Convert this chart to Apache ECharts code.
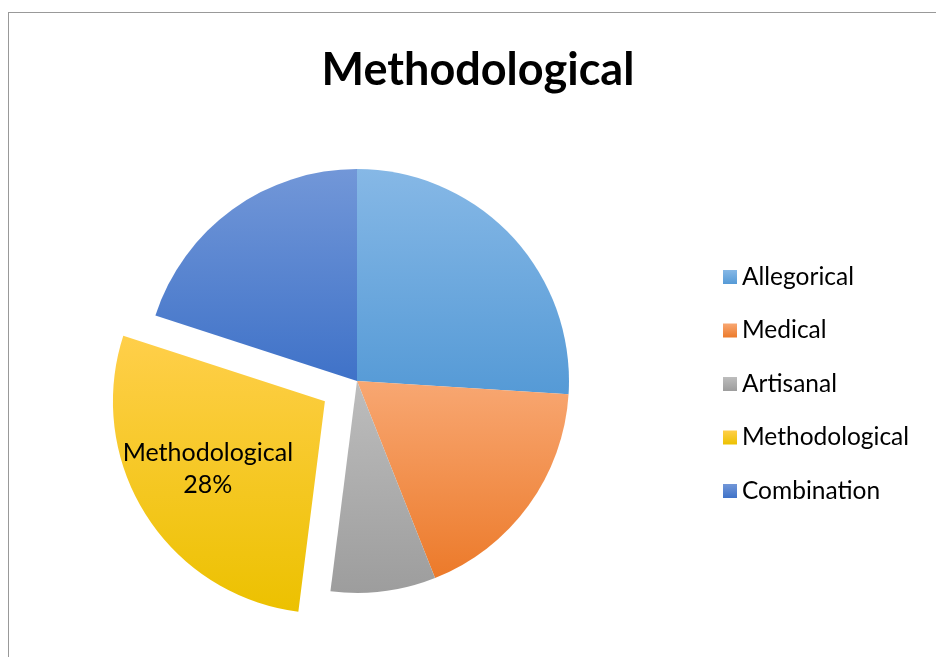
<!DOCTYPE html>
<html>
<head>
<meta charset="utf-8">
<script src="https://cdn.jsdelivr.net/npm/echarts@6/dist/echarts.min.js"></script>
<style>
    html, body { margin: 0; padding: 0; background: #fff; }
    #main { position: absolute; left: 0; top: 0; width: 936px; height: 657px; }
    #frame { position: absolute; left: 8px; top: 12px; width: 940px; height: 660px; border-left: 1px solid #999; border-top: 1px solid #999; }
</style>
</head>
<body>
<div id="frame"></div>
<div id="main"></div>
<script>
    const categories = ['Allegorical', 'Medical', 'Artisanal', 'Methodological', 'Combination'];
    const shares = [26, 18, 8, 28, 20];
    // top / bottom shade of each slice
    const topColors = ['#86B8E6', '#F8A772', '#BDBDBD', '#FFCF4A', '#7297D8'];
    const bottomColors = ['#559AD6', '#EC7A2A', '#9D9D9D', '#ECC100', '#3F72C8'];

    const myChart = echarts.init(document.getElementById('main'));

    const pieData = categories.map((name, i) => {
        const item = {
            name: name,
            value: shares[i],
            itemStyle: {
                color: new echarts.graphic.LinearGradient(0, 0, 0, 1, [
                    { offset: 0, color: topColors[i] },
                    { offset: 1, color: bottomColors[i] }
                ])
            }
        };
        if (name === 'Methodological') {
            item.selected = true;
            item.label = { show: true };
        }
        return item;
    });

    const option = {
        animation: false,
        title: {
            text: 'Methodological',
            left: 473,
            top: 43,
            textAlign: 'center',
            textStyle: {
                fontFamily: 'Lato',
                fontSize: 45,
                fontWeight: 'bold',
                color: '#000'
            }
        },
        legend: {
            orient: 'vertical',
            left: 718,
            top: 259,
            icon: 'rect',
            itemWidth: 14,
            itemHeight: 14,
            itemGap: 27.5,
            textStyle: {
                fontFamily: 'Lato',
                fontSize: 24.5,
                lineHeight: 26,
                color: '#000'
            },
            data: categories
        },
        series: [{
            type: 'pie',
            center: [357, 381],
            radius: 212,
            startAngle: 90,
            clockwise: true,
            selectedMode: 'single',
            selectedOffset: 38,
            label: {
                show: false,
                position: 'inside',
                // empty first line pushes the text block down a little
                formatter: '{s|}\n{b}\n{d}%',
                fontFamily: 'Lato',
                fontSize: 25,
                lineHeight: 32,
                color: '#000',
                padding: [0, 50, 0, 0],
                rich: {
                    s: { height: 18, lineHeight: 18, fontSize: 10 }
                }
            },
            labelLine: { show: false },
            emphasis: { disabled: true },
            data: pieData
        }]
    };
    myChart.setOption(option);
</script>
</body>
</html>
